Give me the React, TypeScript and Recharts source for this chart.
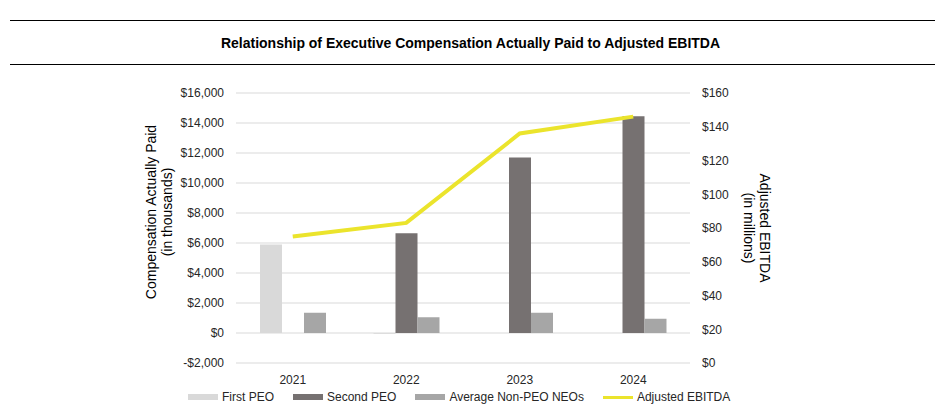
import { Bar, CartesianGrid, ComposedChart, Line, XAxis, YAxis } from "recharts"

const years = ["2021", "2022", "2023", "2024"]
const firstPeo = [5900, -50, null, null]
const secondPeo = [null, 6650, 11700, 14450]
const nonPeoNeos = [1350, 1050, 1350, 950]
const adjustedEbitda = [75, 83, 136, 146]

const leftTicks = [-2000, 0, 2000, 4000, 6000, 8000, 10000, 12000, 14000, 16000]
const rightTicks = [0, 20, 40, 60, 80, 100, 120, 140, 160]

const legendItems = [
  { name: "First PEO", color: "#d9d9d9", line: false },
  { name: "Second PEO", color: "#767171", line: false },
  { name: "Average Non-PEO NEOs", color: "#a6a6a6", line: false },
  { name: "Adjusted EBITDA", color: "#ebe42c", line: true },
]

const data = years.map((year, i) => ({
  year,
  firstPeo: firstPeo[i],
  secondPeo: secondPeo[i],
  nonPeo: nonPeoNeos[i],
  ebitda: adjustedEbitda[i],
}))

const font = "'Liberation Sans', Arial, sans-serif"
const tickStyle = { fontSize: 12, fill: "#262626", fontFamily: font }

const money = (v: number) =>
  v < 0 ? `-$${Math.abs(v).toLocaleString("en-US")}` : `$${v.toLocaleString("en-US")}`

export default function App() {
  return (
    <div
      style={{
        position: "absolute",
        left: 0,
        top: 0,
        width: 941,
        height: 420,
        background: "#fff",
        fontFamily: font,
      }}
    >
      <div style={{ position: "absolute", left: 10, right: 6, top: 20, borderTop: "1px solid #000" }} />
      <div
        style={{
          position: "absolute",
          top: 35,
          width: "100%",
          textAlign: "center",
          fontSize: 14,
          fontWeight: "bold",
          color: "#000",
        }}
      >
        Relationship of Executive Compensation Actually Paid to Adjusted EBITDA
      </div>
      <div style={{ position: "absolute", left: 10, right: 6, top: 64, borderTop: "1px solid #000" }} />

      <div style={{ position: "absolute", left: 0, top: 0 }}>
        <ComposedChart
          width={941}
          height={420}
          data={data}
          margin={{ top: 93, right: 191, bottom: 27, left: 140 }}
          barSize={22}
          barGap={0}
        >
          <CartesianGrid yAxisId="left" vertical={false} stroke="#d9d9d9" />
          <XAxis dataKey="year" axisLine={false} tickLine={false} tick={tickStyle} height={30} tickMargin={6} />
          <YAxis
            yAxisId="left"
            width={96}
            domain={[-2000, 16000]}
            ticks={leftTicks}
            tickFormatter={money}
            axisLine={false}
            tickLine={false}
            tick={tickStyle}
            tickMargin={6}
            interval={0}
          />
          <YAxis
            yAxisId="right"
            orientation="right"
            width={60}
            domain={[0, 160]}
            ticks={rightTicks}
            tickFormatter={(v: number) => `$${v}`}
            axisLine={false}
            tickLine={false}
            tick={tickStyle}
            tickMargin={6}
            interval={0}
          />
          <Bar yAxisId="left" dataKey="firstPeo" fill="#d9d9d9" isAnimationActive={false} />
          <Bar yAxisId="left" dataKey="secondPeo" fill="#767171" isAnimationActive={false} />
          <Bar yAxisId="left" dataKey="nonPeo" fill="#a6a6a6" isAnimationActive={false} />
          <Line
            yAxisId="right"
            dataKey="ebitda"
            stroke="#ebe42c"
            strokeWidth={4}
            dot={false}
            activeDot={false}
            type="linear"
            isAnimationActive={false}
          />
        </ComposedChart>
      </div>

      <div
        style={{
          position: "absolute",
          left: 159,
          top: 212,
          transform: "translate(-50%, -50%) rotate(-90deg)",
          textAlign: "center",
          fontSize: 14,
          lineHeight: "16px",
          color: "#000",
          whiteSpace: "nowrap",
        }}
      >
        Compensation Actually Paid
        <br />
        (in thousands)
      </div>
      <div
        style={{
          position: "absolute",
          left: 757,
          top: 228,
          transform: "translate(-50%, -50%) rotate(90deg)",
          textAlign: "center",
          fontSize: 14,
          lineHeight: "16px",
          color: "#000",
          whiteSpace: "nowrap",
        }}
      >
        Adjusted EBITDA
        <br />
        (in millions)
      </div>

      <div
        style={{
          position: "absolute",
          left: 188,
          top: 390,
          display: "flex",
          alignItems: "center",
          fontSize: 12,
          color: "#262626",
        }}
      >
        {legendItems.map((item) => (
          <div key={item.name} style={{ display: "flex", alignItems: "center", marginRight: 19 }}>
            <div
              style={{
                width: 30,
                height: item.line ? 3 : 6,
                background: item.color,
                marginRight: 4,
              }}
            />
            <span>{item.name}</span>
          </div>
        ))}
      </div>
    </div>
  )
}
